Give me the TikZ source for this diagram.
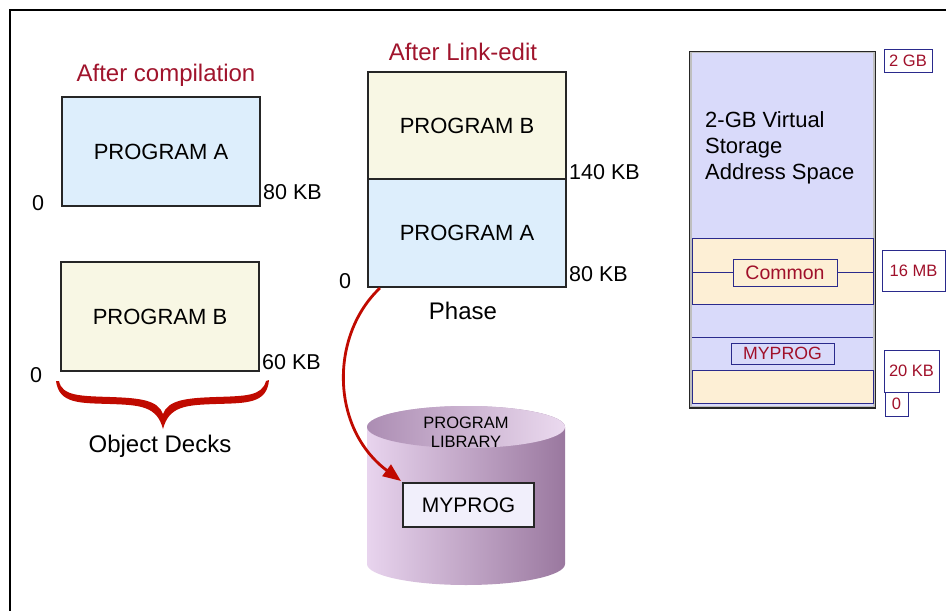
\documentclass[tikz,border=0pt]{standalone}
\usepackage{fontspec}
\setmainfont{Liberation Sans}
\usetikzlibrary{calc,arrows.meta}
\definecolor{titred}{HTML}{A0142C}
\definecolor{labred}{HTML}{A0102A}
\definecolor{arrred}{HTML}{C00A00}
\definecolor{navy}{HTML}{2A2A8C}
\definecolor{pblue}{HTML}{DDEEFC}
\definecolor{pcream}{HTML}{F8F7E4}
\definecolor{lav}{HTML}{D9DAFA}
\definecolor{band}{HTML}{FDEFD5}
\definecolor{mypfill}{HTML}{F1EFFB}
\definecolor{cylL}{HTML}{E8D4EE}
\definecolor{cylR}{HTML}{9A789F}
\definecolor{topL}{HTML}{AC8DB3}
\definecolor{topR}{HTML}{EBDAEF}
\tikzset{
  prog/.style={draw=black!85, line width=2pt, minimum width=198pt, inner sep=0pt,
    font=\fontsize{22}{26}\selectfont,
    append after command={\pgfextra{\let\mynode\tikzlastnode}
      [draw=black!25, line width=1.6pt] ($(\mynode.south west)+(2,-2)$) rectangle ($(\mynode.north east)+(-2,2)$)}},
  ttl/.style={text=titred, font=\fontsize{24}{28}\selectfont},
  big/.style={font=\fontsize{24}{28}\selectfont},
  lbl/.style={font=\fontsize{21.5}{24}\selectfont, inner sep=0pt},
  tag/.style={draw=navy, line width=1pt, text=labred, fill=white, inner sep=0pt, font=\fontsize{16.5}{19}\selectfont},
  bandbox/.style={draw=navy, line width=0.9pt, fill=band},
}
\begin{document}
\begin{tikzpicture}[x=1pt,y=-1pt]
\useasboundingbox (0,0) rectangle (946,611);
% frame
\draw[line width=1.4pt] (946,10) -- (10,10) -- (10,611);

% ---- left: after compilation
\node[ttl] (tcomp) at (166,75) {After compilation};
\node[prog, fill=pblue, minimum height=109pt] (compA) at (161,151.5) {PROGRAM A};
\node[prog, fill=pcream, minimum height=109pt] (compB) at (160,316.5) {PROGRAM B};
\node[lbl, anchor=center] (zA) at (38,203) {0};
\node[lbl, anchor=west] (kA) at (263,192) {80 KB};
\node[lbl, anchor=center] (zB) at (36,375) {0};
\node[lbl, anchor=west] (kB) at (262,362) {60 KB};
% brace
\fill[arrred] (56,381) .. controls (59,404) and (80,403) .. (110,404)
  .. controls (140,405) and (157,406) .. (163,429)
  .. controls (169,406) and (186,405) .. (216,404)
  .. controls (246,403) and (267,404) .. (269,380)
  -- (266,381) .. controls (262,396) and (246,396) .. (216,397)
  .. controls (186,398) and (168,400) .. (163,414)
  .. controls (158,400) and (140,398) .. (110,397)
  .. controls (80,396) and (62,396) .. (59,381) -- cycle;
\node[big] (decks) at (160,446) {Object Decks};

% ---- middle: after link-edit
\node[ttl] (tlink) at (463,52) {After Link-edit};
\node[prog, fill=pcream, minimum height=107pt] (linkB) at (467,125.5) {PROGRAM B};
\node[prog, fill=pblue, minimum height=108pt] (linkA) at (467,233) {PROGRAM A};
\node[lbl, anchor=west] (k140) at (569,172) {140 KB};
\node[lbl, anchor=west] (k80) at (569,274) {80 KB};
\node[lbl, anchor=center] (z0) at (345,281) {0};
\node[big] (phase) at (463,311) {Phase};

% ---- cylinder
\shade[left color=cylL, right color=cylR, shading angle=90]
  (367,427) -- (367,564) arc[start angle=180, end angle=0, x radius=99, y radius=21]
  -- (565,427) arc[start angle=0, end angle=-180, x radius=99, y radius=21] -- cycle;
\shade[left color=topL, right color=topR] (466,427) ellipse[x radius=99, y radius=21];
\node[align=center, font=\fontsize{16.5}{19}\selectfont, inner sep=0pt] (plib) at (466,432) {PROGRAM\\LIBRARY};
\node[prog, fill=mypfill, minimum width=131pt, minimum height=44pt, text width=131pt, align=center, font=\fontsize{21}{24}\selectfont] (myp) at (468.5,505) {MYPROG\hspace*{4pt}};

% arrow
\draw[arrred, line width=2.8pt, -{Triangle[length=18pt,width=14pt]}]
  ($(linkA.south west)+(13,0)$) .. controls (330,335) and (330,428) .. ($(myp.north west)+(-1,-1)$);

% ---- right: address space
\node[draw=black!85, line width=2pt, fill=lav, minimum width=185pt, minimum height=356pt, inner sep=0pt] (vs) at (782.5,229.5) {};
\draw[draw=black!25, line width=1.2pt] ($(vs.south west)+(2,-2)$) rectangle ($(vs.north east)+(-2,2)$);
\node[anchor=north west, align=left, font=\fontsize{22}{26}\selectfont, inner sep=0pt] (vstxt) at (705,111) {2-GB Virtual\\Storage\\Address Space};
\node[bandbox, minimum width=181pt, minimum height=66pt, inner sep=0pt] (cband) at (782.5,271) {};
\node[bandbox, fill=band, minimum width=104pt, minimum height=27pt, inner sep=0pt, text=labred, font=\fontsize{19.5}{22}\selectfont] (common) at (785,272.5) {Common};
\draw[navy, line width=0.9pt] (cband.west |- common.west) -- (common.west);
\draw[navy, line width=0.9pt] (common.east) -- (cband.east |- common.east);
\draw[navy, line width=0.9pt] (692,337) coordinate (ml) -- (873,337) coordinate (mr);
\node[draw=navy, line width=0.9pt, fill=lav, text=labred, minimum width=103pt, minimum height=21pt, inner sep=0pt, font=\fontsize{17.7}{20}\selectfont] (mypl) at (782.5,353.5) {MYPROG};
\node[bandbox, minimum width=181pt, minimum height=33pt, inner sep=0pt] (lband) at (782.5,386.5) {};

\node[tag, minimum width=48pt, minimum height=23pt] (t2gb) at (908,60.5) {2 GB};
\node[tag, minimum width=63pt, minimum height=41pt] (t16) at (913.5,270.5) {16 MB};
\node[tag, minimum width=55pt, minimum height=42pt] (t20) at (911.5,371) {20 KB};
\node[tag, minimum width=23pt, minimum height=24pt] (t0) at (896.5,404) {0};
\end{tikzpicture}
\end{document}
